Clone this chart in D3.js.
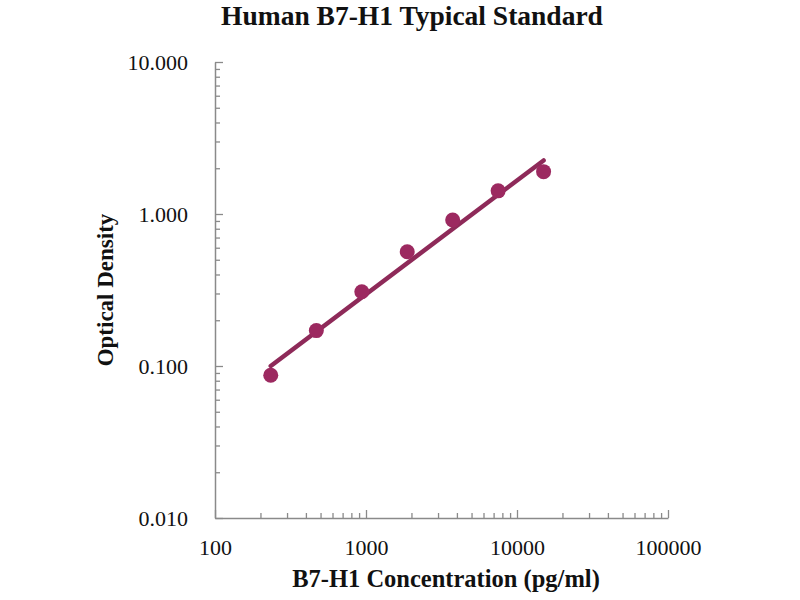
<!DOCTYPE html>
<html>
<head>
<meta charset="utf-8">
<script src="https://cdn.jsdelivr.net/npm/d3@7"></script>
<style>
  html, body { margin: 0; padding: 0; background: #ffffff; }
  svg { display: block; }
</style>
</head>
<body>
<svg id="chart" width="800" height="600"></svg>
<script>
// ---- data ----
const concentrations = [234, 469, 938, 1875, 3750, 7500, 15000];
const odValues = [0.087, 0.171, 0.308, 0.565, 0.913, 1.42, 1.90];
const trendConc = [234, 15000];
const trendOD = [0.100, 2.25];
const xTickLabels = [100, 1000, 10000, 100000];
const yTickLabels = [0.01, 0.1, 1, 10];
const titleText = "Human B7-H1 Typical Standard";
const xTitle = "B7-H1 Concentration (pg/ml)";
const yTitle = "Optical Density";

// ---- layout ----
const svg = d3.select("#chart");
const plotL = 215, plotR = 668, plotT = 62, plotB = 518;
const serif = "'Liberation Serif', 'Times New Roman', serif";
const axisColor = "#8a8a8a";
const dotColor = "#9c2960";
const lineColor = "#8e2a59";

const x = d3.scaleLog().domain([100, 100000]).range([plotL, plotR]);
const y = d3.scaleLog().domain([0.01, 10]).range([plotB, plotT]);

function minorTicks(domain) {
  const out = [];
  for (let d = domain[0]; d < domain[1]; d *= 10) {
    for (let k = 2; k <= 9; k++) out.push(+(d * k).toPrecision(6));
  }
  return out;
}

// y axis minor
svg.append("g")
  .attr("transform", `translate(${plotL},0)`)
  .call(d3.axisLeft(y).tickValues(minorTicks([0.01, 10])).tickSize(-5).tickSizeOuter(0).tickFormat(""))
  .call(g => g.select(".domain").remove())
  .call(g => g.selectAll("line").attr("stroke", axisColor).attr("stroke-width", 1.3));

// y axis major
svg.append("g")
  .attr("transform", `translate(${plotL},0)`)
  .call(d3.axisLeft(y).tickValues(yTickLabels).tickSize(-8).tickSizeOuter(0).tickPadding(27).tickFormat(d3.format(".3f")))
  .call(g => g.select(".domain").attr("stroke", axisColor).attr("stroke-width", 1.5))
  .call(g => g.selectAll("line").attr("stroke", axisColor).attr("stroke-width", 1.3))
  .call(g => g.selectAll("text").attr("font-family", serif).attr("font-size", 22).attr("fill", "#111"));

// x axis minor
svg.append("g")
  .attr("transform", `translate(0,${plotB})`)
  .call(d3.axisBottom(x).tickValues(minorTicks([100, 100000])).tickSize(-5).tickSizeOuter(0).tickFormat(""))
  .call(g => g.select(".domain").remove())
  .call(g => g.selectAll("line").attr("stroke", axisColor).attr("stroke-width", 1.3));

// x axis major
svg.append("g")
  .attr("transform", `translate(0,${plotB})`)
  .call(d3.axisBottom(x).tickValues(xTickLabels).tickSize(-8).tickSizeOuter(0).tickPadding(21).tickFormat(d3.format("d")))
  .call(g => g.select(".domain").attr("stroke", axisColor).attr("stroke-width", 1.5))
  .call(g => g.selectAll("line").attr("stroke", axisColor).attr("stroke-width", 1.3))
  .call(g => g.selectAll("text").attr("font-family", serif).attr("font-size", 22).attr("fill", "#111"));

// trend line
const trend = trendConc.map((c, i) => [c, trendOD[i]]);
svg.append("path")
  .datum(trend)
  .attr("fill", "none")
  .attr("stroke", lineColor)
  .attr("stroke-width", 4.5)
  .attr("stroke-linecap", "round")
  .attr("d", d3.line().x(d => x(d[0])).y(d => y(d[1])));

// points
svg.append("g")
  .selectAll("circle")
  .data(concentrations.map((c, i) => [c, odValues[i]]))
  .join("circle")
  .attr("cx", d => x(d[0]))
  .attr("cy", d => y(d[1]))
  .attr("r", 7.5)
  .attr("fill", dotColor);

// titles
svg.append("text")
  .attr("x", 412).attr("y", 25)
  .attr("text-anchor", "middle")
  .attr("font-family", serif).attr("font-weight", "bold").attr("font-size", 27.5)
  .attr("fill", "#111")
  .text(titleText);

svg.append("text")
  .attr("x", 446).attr("y", 587)
  .attr("text-anchor", "middle")
  .attr("font-family", serif).attr("font-weight", "bold").attr("font-size", 24.5)
  .attr("fill", "#111")
  .text(xTitle);

svg.append("text")
  .attr("transform", "translate(113,290) rotate(-90)")
  .attr("text-anchor", "middle")
  .attr("font-family", serif).attr("font-weight", "bold").attr("font-size", 23)
  .attr("fill", "#111")
  .text(yTitle);
</script>
</body>
</html>
